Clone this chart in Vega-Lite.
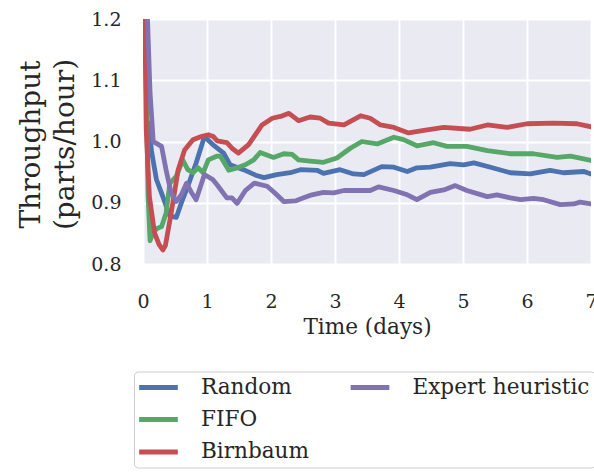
{
  "$schema": "https://vega.github.io/schema/vega-lite/v6.json",
  "width": 448,
  "height": 245,
  "autosize": {"type": "none"},
  "padding": {"left": 143, "top": 19, "right": 3, "bottom": 210},
  "background": "white",
  "config": {
    "font": "DejaVu Serif",
    "view": {"fill": "#EAEAF2", "stroke": null},
    "axis": {
      "domain": false,
      "ticks": false,
      "gridColor": "white",
      "gridWidth": 2,
      "labelFont": "DejaVu Serif",
      "labelColor": "#262626",
      "titleFont": "DejaVu Serif",
      "titleColor": "#262626",
      "titleFontWeight": "normal"
    },
    "legend": {
      "labelFont": "DejaVu Serif",
      "labelColor": "#262626"
    }
  },
  "data": {
    "values": [
      {"t": 0.10, "v": 1.03, "s": "Random"},
      {"t": 0.13, "v": 0.986, "s": "Random"},
      {"t": 0.21, "v": 0.938, "s": "Random"},
      {"t": 0.31, "v": 0.910, "s": "Random"},
      {"t": 0.42, "v": 0.878, "s": "Random"},
      {"t": 0.52, "v": 0.876, "s": "Random"},
      {"t": 0.60, "v": 0.900, "s": "Random"},
      {"t": 0.70, "v": 0.927, "s": "Random"},
      {"t": 0.83, "v": 0.965, "s": "Random"},
      {"t": 0.96, "v": 1.008, "s": "Random"},
      {"t": 1.09, "v": 0.995, "s": "Random"},
      {"t": 1.20, "v": 0.986, "s": "Random"},
      {"t": 1.26, "v": 0.981, "s": "Random"},
      {"t": 1.36, "v": 0.962, "s": "Random"},
      {"t": 1.57, "v": 0.954, "s": "Random"},
      {"t": 1.76, "v": 0.945, "s": "Random"},
      {"t": 1.89, "v": 0.941, "s": "Random"},
      {"t": 2.09, "v": 0.946, "s": "Random"},
      {"t": 2.30, "v": 0.949, "s": "Random"},
      {"t": 2.46, "v": 0.954, "s": "Random"},
      {"t": 2.72, "v": 0.953, "s": "Random"},
      {"t": 2.82, "v": 0.948, "s": "Random"},
      {"t": 3.08, "v": 0.954, "s": "Random"},
      {"t": 3.29, "v": 0.947, "s": "Random"},
      {"t": 3.45, "v": 0.946, "s": "Random"},
      {"t": 3.73, "v": 0.959, "s": "Random"},
      {"t": 3.92, "v": 0.958, "s": "Random"},
      {"t": 4.13, "v": 0.951, "s": "Random"},
      {"t": 4.28, "v": 0.957, "s": "Random"},
      {"t": 4.49, "v": 0.958, "s": "Random"},
      {"t": 4.80, "v": 0.964, "s": "Random"},
      {"t": 5.01, "v": 0.962, "s": "Random"},
      {"t": 5.17, "v": 0.965, "s": "Random"},
      {"t": 5.43, "v": 0.958, "s": "Random"},
      {"t": 5.74, "v": 0.949, "s": "Random"},
      {"t": 6.05, "v": 0.947, "s": "Random"},
      {"t": 6.36, "v": 0.953, "s": "Random"},
      {"t": 6.57, "v": 0.949, "s": "Random"},
      {"t": 6.89, "v": 0.951, "s": "Random"},
      {"t": 7.00, "v": 0.947, "s": "Random"},

      {"t": 0.04, "v": 1.15, "s": "FIFO"},
      {"t": 0.08, "v": 0.91, "s": "FIFO"},
      {"t": 0.11, "v": 0.838, "s": "FIFO"},
      {"t": 0.16, "v": 0.852, "s": "FIFO"},
      {"t": 0.22, "v": 0.858, "s": "FIFO"},
      {"t": 0.29, "v": 0.861, "s": "FIFO"},
      {"t": 0.36, "v": 0.883, "s": "FIFO"},
      {"t": 0.42, "v": 0.932, "s": "FIFO"},
      {"t": 0.52, "v": 0.943, "s": "FIFO"},
      {"t": 0.62, "v": 0.970, "s": "FIFO"},
      {"t": 0.70, "v": 0.954, "s": "FIFO"},
      {"t": 0.78, "v": 0.949, "s": "FIFO"},
      {"t": 0.86, "v": 0.957, "s": "FIFO"},
      {"t": 0.94, "v": 0.949, "s": "FIFO"},
      {"t": 1.02, "v": 0.970, "s": "FIFO"},
      {"t": 1.15, "v": 0.976, "s": "FIFO"},
      {"t": 1.21, "v": 0.976, "s": "FIFO"},
      {"t": 1.34, "v": 0.953, "s": "FIFO"},
      {"t": 1.47, "v": 0.957, "s": "FIFO"},
      {"t": 1.60, "v": 0.962, "s": "FIFO"},
      {"t": 1.73, "v": 0.970, "s": "FIFO"},
      {"t": 1.83, "v": 0.982, "s": "FIFO"},
      {"t": 2.04, "v": 0.974, "s": "FIFO"},
      {"t": 2.20, "v": 0.980, "s": "FIFO"},
      {"t": 2.33, "v": 0.979, "s": "FIFO"},
      {"t": 2.43, "v": 0.970, "s": "FIFO"},
      {"t": 2.61, "v": 0.968, "s": "FIFO"},
      {"t": 2.82, "v": 0.966, "s": "FIFO"},
      {"t": 3.03, "v": 0.973, "s": "FIFO"},
      {"t": 3.24, "v": 0.989, "s": "FIFO"},
      {"t": 3.42, "v": 1.000, "s": "FIFO"},
      {"t": 3.66, "v": 0.996, "s": "FIFO"},
      {"t": 3.92, "v": 1.007, "s": "FIFO"},
      {"t": 4.07, "v": 1.003, "s": "FIFO"},
      {"t": 4.28, "v": 0.993, "s": "FIFO"},
      {"t": 4.54, "v": 0.998, "s": "FIFO"},
      {"t": 4.75, "v": 0.992, "s": "FIFO"},
      {"t": 5.06, "v": 0.992, "s": "FIFO"},
      {"t": 5.38, "v": 0.985, "s": "FIFO"},
      {"t": 5.74, "v": 0.980, "s": "FIFO"},
      {"t": 6.10, "v": 0.980, "s": "FIFO"},
      {"t": 6.47, "v": 0.974, "s": "FIFO"},
      {"t": 6.68, "v": 0.976, "s": "FIFO"},
      {"t": 7.00, "v": 0.969, "s": "FIFO"},

      {"t": 0.01, "v": 1.40, "s": "Birnbaum"},
      {"t": 0.03, "v": 1.20, "s": "Birnbaum"},
      {"t": 0.05, "v": 1.02, "s": "Birnbaum"},
      {"t": 0.10, "v": 0.91, "s": "Birnbaum"},
      {"t": 0.18, "v": 0.851, "s": "Birnbaum"},
      {"t": 0.25, "v": 0.832, "s": "Birnbaum"},
      {"t": 0.31, "v": 0.823, "s": "Birnbaum"},
      {"t": 0.35, "v": 0.830, "s": "Birnbaum"},
      {"t": 0.44, "v": 0.883, "s": "Birnbaum"},
      {"t": 0.55, "v": 0.954, "s": "Birnbaum"},
      {"t": 0.65, "v": 0.986, "s": "Birnbaum"},
      {"t": 0.78, "v": 1.003, "s": "Birnbaum"},
      {"t": 0.91, "v": 1.008, "s": "Birnbaum"},
      {"t": 1.02, "v": 1.011, "s": "Birnbaum"},
      {"t": 1.10, "v": 1.008, "s": "Birnbaum"},
      {"t": 1.16, "v": 1.001, "s": "Birnbaum"},
      {"t": 1.31, "v": 0.998, "s": "Birnbaum"},
      {"t": 1.39, "v": 0.989, "s": "Birnbaum"},
      {"t": 1.49, "v": 0.981, "s": "Birnbaum"},
      {"t": 1.65, "v": 0.995, "s": "Birnbaum"},
      {"t": 1.86, "v": 1.027, "s": "Birnbaum"},
      {"t": 2.02, "v": 1.038, "s": "Birnbaum"},
      {"t": 2.15, "v": 1.041, "s": "Birnbaum"},
      {"t": 2.28, "v": 1.046, "s": "Birnbaum"},
      {"t": 2.43, "v": 1.034, "s": "Birnbaum"},
      {"t": 2.61, "v": 1.040, "s": "Birnbaum"},
      {"t": 2.77, "v": 1.038, "s": "Birnbaum"},
      {"t": 2.90, "v": 1.030, "s": "Birnbaum"},
      {"t": 3.14, "v": 1.027, "s": "Birnbaum"},
      {"t": 3.40, "v": 1.042, "s": "Birnbaum"},
      {"t": 3.55, "v": 1.038, "s": "Birnbaum"},
      {"t": 3.71, "v": 1.027, "s": "Birnbaum"},
      {"t": 3.92, "v": 1.023, "s": "Birnbaum"},
      {"t": 4.15, "v": 1.014, "s": "Birnbaum"},
      {"t": 4.39, "v": 1.018, "s": "Birnbaum"},
      {"t": 4.70, "v": 1.023, "s": "Birnbaum"},
      {"t": 5.11, "v": 1.020, "s": "Birnbaum"},
      {"t": 5.38, "v": 1.027, "s": "Birnbaum"},
      {"t": 5.69, "v": 1.023, "s": "Birnbaum"},
      {"t": 6.00, "v": 1.029, "s": "Birnbaum"},
      {"t": 6.42, "v": 1.030, "s": "Birnbaum"},
      {"t": 6.78, "v": 1.029, "s": "Birnbaum"},
      {"t": 7.00, "v": 1.024, "s": "Birnbaum"},

      {"t": 0.04, "v": 1.35, "s": "Expert heuristic"},
      {"t": 0.07, "v": 1.20, "s": "Expert heuristic"},
      {"t": 0.11, "v": 1.08, "s": "Expert heuristic"},
      {"t": 0.16, "v": 1.00, "s": "Expert heuristic"},
      {"t": 0.21, "v": 0.997, "s": "Expert heuristic"},
      {"t": 0.29, "v": 0.992, "s": "Expert heuristic"},
      {"t": 0.36, "v": 0.954, "s": "Expert heuristic"},
      {"t": 0.44, "v": 0.916, "s": "Expert heuristic"},
      {"t": 0.52, "v": 0.902, "s": "Expert heuristic"},
      {"t": 0.60, "v": 0.913, "s": "Expert heuristic"},
      {"t": 0.68, "v": 0.932, "s": "Expert heuristic"},
      {"t": 0.75, "v": 0.918, "s": "Expert heuristic"},
      {"t": 0.83, "v": 0.905, "s": "Expert heuristic"},
      {"t": 0.96, "v": 0.946, "s": "Expert heuristic"},
      {"t": 1.09, "v": 0.938, "s": "Expert heuristic"},
      {"t": 1.16, "v": 0.929, "s": "Expert heuristic"},
      {"t": 1.31, "v": 0.908, "s": "Expert heuristic"},
      {"t": 1.39, "v": 0.908, "s": "Expert heuristic"},
      {"t": 1.47, "v": 0.899, "s": "Expert heuristic"},
      {"t": 1.60, "v": 0.920, "s": "Expert heuristic"},
      {"t": 1.74, "v": 0.932, "s": "Expert heuristic"},
      {"t": 1.94, "v": 0.927, "s": "Expert heuristic"},
      {"t": 2.04, "v": 0.918, "s": "Expert heuristic"},
      {"t": 2.20, "v": 0.902, "s": "Expert heuristic"},
      {"t": 2.38, "v": 0.903, "s": "Expert heuristic"},
      {"t": 2.51, "v": 0.908, "s": "Expert heuristic"},
      {"t": 2.64, "v": 0.913, "s": "Expert heuristic"},
      {"t": 2.82, "v": 0.917, "s": "Expert heuristic"},
      {"t": 2.98, "v": 0.916, "s": "Expert heuristic"},
      {"t": 3.14, "v": 0.920, "s": "Expert heuristic"},
      {"t": 3.34, "v": 0.920, "s": "Expert heuristic"},
      {"t": 3.55, "v": 0.920, "s": "Expert heuristic"},
      {"t": 3.68, "v": 0.926, "s": "Expert heuristic"},
      {"t": 3.92, "v": 0.920, "s": "Expert heuristic"},
      {"t": 4.13, "v": 0.913, "s": "Expert heuristic"},
      {"t": 4.28, "v": 0.905, "s": "Expert heuristic"},
      {"t": 4.49, "v": 0.917, "s": "Expert heuristic"},
      {"t": 4.70, "v": 0.921, "s": "Expert heuristic"},
      {"t": 4.88, "v": 0.928, "s": "Expert heuristic"},
      {"t": 5.06, "v": 0.920, "s": "Expert heuristic"},
      {"t": 5.38, "v": 0.910, "s": "Expert heuristic"},
      {"t": 5.53, "v": 0.913, "s": "Expert heuristic"},
      {"t": 5.74, "v": 0.908, "s": "Expert heuristic"},
      {"t": 5.90, "v": 0.905, "s": "Expert heuristic"},
      {"t": 6.10, "v": 0.907, "s": "Expert heuristic"},
      {"t": 6.26, "v": 0.905, "s": "Expert heuristic"},
      {"t": 6.52, "v": 0.897, "s": "Expert heuristic"},
      {"t": 6.73, "v": 0.898, "s": "Expert heuristic"},
      {"t": 6.83, "v": 0.901, "s": "Expert heuristic"},
      {"t": 7.00, "v": 0.898, "s": "Expert heuristic"}
    ]
  },
  "mark": {"type": "line", "strokeWidth": 4.8, "clip": true, "strokeCap": "round", "strokeJoin": "round"},
  "encoding": {
    "x": {
      "field": "t",
      "type": "quantitative",
      "scale": {"domain": [0, 7], "nice": false, "zero": false},
      "axis": {
        "title": "Time (days)",
        "values": [0, 1, 2, 3, 4, 5, 6, 7],
        "labelFontSize": 19,
        "labelPadding": 28,
        "titleFontSize": 21.6,
        "titleBaseline": "alphabetic",
        "titleY": 69,
        "labelFlush": false
      }
    },
    "y": {
      "field": "v",
      "type": "quantitative",
      "scale": {"domain": [0.8, 1.2], "nice": false, "zero": false},
      "axis": {
        "title": ["Throughput", "(parts/hour)"],
        "values": [0.8, 0.9, 1.0, 1.1, 1.2],
        "format": ".1f",
        "labelFontSize": 19,
        "labelPadding": 22,
        "titleFontSize": 28,
        "titleLineHeight": 34,
        "titleAlign": "center",
        "titleBaseline": "alphabetic",
        "titleAngle": -90,
        "titleX": -104,
        "titleY": 125,
        "labelFlush": false
      }
    },
    "color": {
      "field": "s",
      "type": "nominal",
      "scale": {
        "domain": ["Random", "FIFO", "Birnbaum", "Expert heuristic", " "],
        "range": ["#4C72B0", "#55A868", "#C44E52", "#8172B2", "rgba(0,0,0,0)"]
      },
      "legend": {
        "title": null,
        "orient": "none",
        "legendX": -9,
        "legendY": 352.5,
        "columns": 2,
        "direction": "vertical",
        "symbolType": "M-2.47,0H2.47",
        "symbolSize": 245,
        "symbolOffset": 8.7,
        "symbolStrokeWidth": 5,
        "labelFontSize": 21.6,
        "labelOffset": 31.6,
        "labelLimit": 300,
        "rowPadding": 9.3,
        "columnPadding": 31.5,
        "padding": 5,
        "fillColor": "white",
        "strokeColor": "#cccccc",
        "cornerRadius": 4
      }
    }
  }
}
